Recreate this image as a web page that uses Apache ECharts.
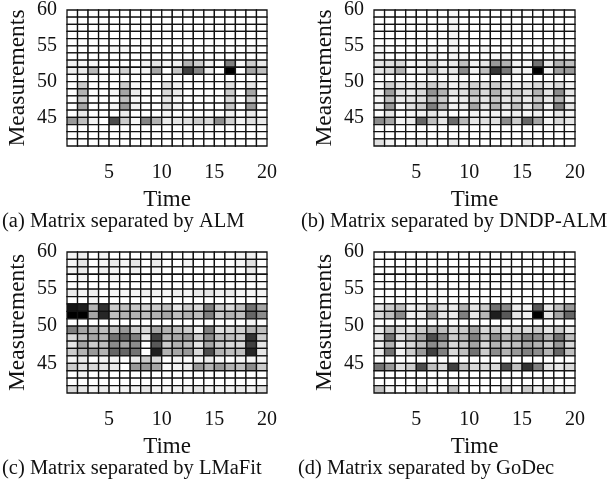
<!DOCTYPE html>
<html>
<head>
<meta charset="utf-8">
<script src="https://cdn.jsdelivr.net/npm/echarts@6/dist/echarts.min.js"></script>
<style>html,body{margin:0;padding:0;background:#fff}#c{width:608px;height:486px}</style>
</head>
<body>
<div id="c"></div>
<script>
// Cell edges: time 1..20 (19 columns), measurements 41..60 (19 rows)
const timeStart = 1, timeEnd = 20;
const measStart = 41, measEnd = 60;
const xTicks = [5, 10, 15, 20];
const yTicks = [45, 50, 55, 60];
const captions = ['(a) Matrix separated by ALM', '(b) Matrix separated by DNDP-ALM',
                  '(c) Matrix separated by LMaFit', '(d) Matrix separated by GoDec'];

// Each matrix: rows listed from top (59-60) to bottom (41-42); 19 columns per row (time 1..19)
const matALM = [
[0,0,0,0,0,0,0,0,0,0,0,0,0,0,0,0,0,0,0],
[0,0,0,0,0,0,0,0,0,0,0,0,0,0,0,0,0,0,0],
[0,0,0,0,0,0,0,0,0,0,0,0,0,0,0,0,0,0,0],
[0,0,0,0,0,0,0,0,0,0,0,0,0,0,0,0,0,0,0],
[0,0,0,0,0,0,0,0,0,0,0,0,0,0,0,0,0,0,0],
[0,0,0,0,0.03,0.03,0,0,0,0,0,0,0,0,0,0,0,0.03,0],
[0,0,0,0,0,0,0,0,0,0,0,0,0,0,0,0,0,0,0],
[0.05,0.03,0.03,0,0,0,0,0.05,0.1,0.03,0.05,0.3,0.2,0.05,0,0.5,0.03,0.2,0.08],
[0.06,0.08,0.28,0,0.05,0.18,0.03,0.06,0.35,0,0.22,0.75,0.48,0.08,0,1.0,0,0.35,0.25],
[0,0,0,0,0,0,0,0,0,0,0,0,0,0,0,0,0,0,0],
[0,0.2,0,0,0,0.2,0.03,0,0,0.12,0.05,0,0,0,0,0.12,0,0.1,0],
[0,0.3,0,0,0.03,0.35,0.08,0,0,0.15,0.08,0,0,0,0,0.2,0,0.35,0],
[0,0.2,0,0,0,0.25,0.03,0,0,0.1,0.03,0,0,0,0,0.15,0,0.2,0],
[0,0.35,0,0,0.03,0.4,0.05,0,0,0.12,0.05,0,0,0,0,0.22,0,0.4,0],
[0,0.08,0,0,0,0.08,0,0,0,0.03,0,0,0,0,0,0.05,0,0.08,0],
[0.4,0.25,0.05,0,0.7,0.2,0.03,0.48,0.3,0.08,0.1,0.12,0.2,0.15,0.45,0.18,0.05,0.12,0.08],
[0,0,0,0,0,0,0,0,0,0,0,0,0,0,0,0,0,0,0],
[0,0,0,0,0,0,0,0,0,0,0,0,0,0,0,0,0,0,0],
[0,0,0,0,0,0,0,0,0,0,0,0,0,0,0,0,0,0,0]
];
const matDNDP = [
[0,0,0,0,0,0,0,0.03,0,0,0,0,0,0,0,0,0,0,0],
[0,0,0,0,0,0,0,0.04,0,0,0,0,0,0,0,0,0,0,0],
[0,0,0,0,0,0,0,0.05,0,0,0,0,0,0,0,0,0,0,0],
[0,0,0,0,0,0,0,0.04,0,0,0,0,0,0,0,0,0,0,0],
[0,0,0,0,0,0,0,0.04,0,0,0,0,0,0,0,0,0,0,0],
[0.03,0,0,0,0,0.03,0,0.04,0,0,0.03,0,0,0,0,0,0,0.03,0],
[0.03,0,0,0,0,0.03,0,0.04,0.03,0,0,0.03,0.03,0,0,0,0,0.03,0.03],
[0.1,0.12,0.15,0.03,0.05,0.15,0.05,0.08,0.25,0.05,0.1,0.4,0.3,0.05,0.03,0.55,0.08,0.3,0.25],
[0.1,0.15,0.3,0.03,0.05,0.25,0.08,0.1,0.45,0.05,0.25,0.78,0.52,0.08,0.05,1.0,0.05,0.38,0.4],
[0,0,0,0,0,0,0,0.03,0,0,0,0,0,0,0,0,0,0,0],
[0.03,0.2,0.1,0.08,0.1,0.2,0.12,0.05,0.1,0.18,0.12,0.2,0.1,0.08,0.1,0.15,0.08,0.15,0.05],
[0.05,0.38,0.12,0.08,0.15,0.42,0.3,0.1,0.12,0.25,0.15,0.3,0.12,0.2,0.12,0.3,0.1,0.45,0.1],
[0.03,0.25,0.08,0.1,0.12,0.3,0.2,0.05,0.08,0.18,0.1,0.22,0.1,0.15,0.08,0.2,0.08,0.3,0.05],
[0.05,0.4,0.03,0.12,0.2,0.5,0.28,0.05,0.08,0.35,0.1,0.3,0.1,0.25,0.1,0.28,0.05,0.5,0.1],
[0,0.1,0,0.03,0.05,0.1,0.05,0,0,0.05,0.03,0.05,0.03,0.05,0.03,0.05,0,0.08,0.03],
[0.45,0.35,0.05,0.08,0.6,0.25,0.1,0.58,0.28,0.1,0.12,0.12,0.45,0.2,0.6,0.35,0.05,0.15,0.1],
[0,0,0,0,0,0,0,0,0,0,0,0,0,0,0,0,0,0,0],
[0,0,0,0,0,0,0,0,0,0,0,0,0,0,0,0,0,0,0],
[0.12,0.05,0,0,0.08,0,0,0.08,0,0,0,0,0,0,0.08,0,0,0,0]
];
const matLMaFit = [
[0.04,0.06,0,0.04,0,0,0,0,0.04,0,0,0,0,0,0,0,0.04,0.06,0],
[0.04,0.1,0,0.04,0.08,0.04,0.1,0,0.08,0,0,0.04,0,0,0,0,0.04,0.12,0],
[0.04,0.08,0,0.06,0.04,0,0.06,0,0.04,0,0,0,0,0,0,0,0,0.08,0],
[0,0.04,0,0,0.04,0,0,0,0,0,0,0,0,0,0,0,0,0.04,0],
[0,0,0,0,0,0,0,0,0,0,0,0,0,0,0,0,0,0,0],
[0.08,0.04,0.06,0,0.04,0.04,0.04,0.06,0.05,0.04,0.06,0.04,0.08,0.1,0.06,0.08,0.04,0.04,0.04],
[0,0,0.04,0,0,0,0,0,0,0,0,0,0,0,0,0,0,0,0],
[0.92,0.88,0.3,0.8,0.2,0.25,0.22,0.18,0.2,0.25,0.1,0.2,0.15,0.5,0.2,0.15,0.25,0.55,0.35],
[1.0,1.0,0.35,0.85,0.25,0.3,0.3,0.25,0.3,0.35,0.25,0.3,0.25,0.5,0.2,0.3,0.25,0.6,0.45],
[0,0,0,0,0,0,0,0,0,0,0,0,0,0,0,0,0,0.05,0],
[0.5,0.35,0.3,0.25,0.25,0.4,0.2,0.15,0.35,0.3,0.25,0.2,0.05,0.5,0.12,0.15,0.18,0.3,0.25],
[0.15,0.25,0.35,0.3,0.55,0.6,0.5,0.1,0.75,0.3,0.35,0.4,0.2,0.45,0.25,0.25,0.2,0.8,0.2],
[0.1,0.35,0.2,0.25,0.45,0.35,0.45,0,0.65,0.2,0.3,0.25,0.1,0.35,0.2,0.15,0.15,0.75,0.1],
[0.2,0.3,0.4,0.3,0.6,0.6,0.55,0,0.88,0.3,0.35,0.4,0.15,0.7,0.3,0.25,0.25,0.85,0.1],
[0.04,0.08,0,0.04,0.04,0,0.08,0.2,0.15,0,0.04,0,0.04,0.08,0.04,0,0.04,0.04,0.04],
[0.2,0.12,0.15,0.1,0.08,0,0.4,0.4,0.35,0.03,0.05,0.08,0.4,0.3,0.4,0.3,0.25,0.45,0.2],
[0,0.04,0,0,0,0,0,0,0,0,0,0,0,0,0,0,0,0,0],
[0,0,0,0,0,0,0,0,0,0,0,0,0,0,0,0,0,0,0],
[0.15,0.1,0.05,0.08,0.03,0.05,0.05,0.1,0.05,0.03,0.05,0.05,0.1,0.05,0.05,0.05,0.08,0.05,0.12]
];
const matGoDec = [
[0,0,0,0,0,0,0,0,0,0,0,0,0,0,0,0,0,0,0],
[0,0,0,0,0,0,0,0,0,0,0,0,0,0,0,0,0,0,0],
[0,0,0,0,0,0,0,0,0,0,0,0,0,0,0,0,0,0,0],
[0,0,0,0,0,0,0,0,0,0,0,0,0,0,0,0,0,0,0],
[0,0,0,0,0,0,0,0,0,0,0,0,0,0,0,0,0,0,0],
[0,0,0,0,0,0,0,0,0,0,0,0,0,0,0,0,0,0,0],
[0,0,0,0,0,0,0,0,0,0,0,0,0,0,0,0,0,0,0],
[0.1,0.2,0.25,0.05,0.08,0.25,0.1,0.08,0.3,0.1,0.2,0.55,0.45,0.08,0.05,0.65,0.1,0.25,0.4],
[0.15,0.25,0.45,0.05,0.08,0.4,0.1,0.08,0.5,0.1,0.28,0.88,0.65,0.1,0.05,1.0,0.1,0.35,0.6],
[0,0,0,0,0,0,0,0,0,0,0,0,0,0,0,0,0,0,0],
[0.08,0.25,0.15,0.1,0.2,0.3,0.25,0.15,0.2,0.35,0.15,0.2,0.1,0.15,0.15,0.2,0.1,0.2,0.08],
[0.1,0.55,0.12,0.25,0.35,0.7,0.5,0.2,0.3,0.5,0.25,0.45,0.3,0.35,0.5,0.45,0.3,0.55,0.25],
[0.05,0.3,0.05,0.15,0.25,0.45,0.35,0.15,0.2,0.35,0.15,0.3,0.2,0.25,0.35,0.3,0.2,0.4,0.15],
[0.08,0.55,0.05,0.2,0.4,0.75,0.5,0.15,0.25,0.55,0.2,0.45,0.3,0.4,0.5,0.45,0.3,0.6,0.25],
[0,0,0,0,0,0,0,0,0,0,0,0,0,0,0,0,0,0,0],
[0.55,0.4,0.12,0.2,0.7,0.25,0.15,0.75,0.25,0.15,0.15,0.15,0.7,0.25,0.8,0.5,0.12,0.1,0.15],
[0,0,0,0,0,0,0,0,0,0,0,0,0,0,0,0,0,0,0],
[0,0,0,0,0,0,0,0,0,0,0,0,0,0,0,0,0,0,0],
[0.25,0.05,0,0,0.2,0,0,0.25,0,0,0,0,0.2,0,0.2,0.05,0.15,0.05,0.05]
];
const matrices = [matALM, matDNDP, matLMaFit, matGoDec];

const FONT = '"Liberation Serif", "Times New Roman", serif';
const grids = [
  {left: 67, top: 5, width: 200, height: 141},
  {left: 374, top: 5, width: 201, height: 141},
  {left: 67, top: 252, width: 200, height: 141},
  {left: 374, top: 252, width: 201, height: 141}
];
const captionPos = [{left: 2, top: 211}, {left: 301, top: 211}, {left: 2, top: 458}, {left: 298, top: 458}];

function toData(mat) {
  const out = [];
  for (let r = 0; r < mat.length; r++) {
    for (let c = 0; c < mat[r].length; c++) {
      out.push([timeStart + c, measEnd - 1 - r, mat[r][c]]);
    }
  }
  return out;
}

function grayOf(v) {
  const g = Math.round(255 * (1 - Math.max(0, Math.min(1, v))));
  return 'rgb(' + g + ',' + g + ',' + g + ')';
}

function renderCell(params, api) {
  const x = api.value(0), y = api.value(1), v = api.value(2);
  const p0 = api.coord([x, y + 1]);
  const p1 = api.coord([x + 1, y]);
  return {
    type: 'rect',
    shape: {x: p0[0], y: p0[1], width: p1[0] - p0[0], height: p1[1] - p0[1]},
    style: {fill: grayOf(v), stroke: '#111', lineWidth: 1.3}
  };
}

const chart = echarts.init(document.getElementById('c'), null, {renderer: 'canvas'});
const option = {
  animation: false,
  backgroundColor: '#fff',
  title: captions.map((t, i) => ({
    text: t, left: captionPos[i].left, top: captionPos[i].top, padding: 0,
    textStyle: {fontFamily: FONT, fontSize: 20.5, fontWeight: 'normal', color: '#111'}
  })),
  grid: grids.map(g => Object.assign({containLabel: false}, g)),
  xAxis: grids.map((g, i) => ({
    type: 'value', gridIndex: i, min: timeStart, max: timeEnd,
    name: 'Time', nameLocation: 'middle', nameGap: 42,
    nameTextStyle: {fontFamily: FONT, fontSize: 23, color: '#111'},
    axisLine: {show: false}, axisTick: {show: false}, splitLine: {show: false},
    axisLabel: {customValues: xTicks, margin: 17, fontFamily: FONT, fontSize: 20, color: '#111'}
  })),
  yAxis: grids.map((g, i) => ({
    type: 'value', gridIndex: i, min: measStart, max: measEnd,
    name: 'Measurements', nameLocation: 'middle', nameGap: 37,
    nameTextStyle: {fontFamily: FONT, fontSize: 23.5, color: '#111'},
    axisLine: {show: false}, axisTick: {show: false}, splitLine: {show: false},
    axisLabel: {customValues: yTicks, margin: 10, fontFamily: FONT, fontSize: 20, color: '#111'}
  })),
  series: matrices.map((m, i) => ({
    type: 'custom', xAxisIndex: i, yAxisIndex: i,
    renderItem: renderCell, data: toData(m),
    encode: {x: 0, y: 1}, clip: false
  }))
};
chart.setOption(option);
</script>
</body>
</html>
